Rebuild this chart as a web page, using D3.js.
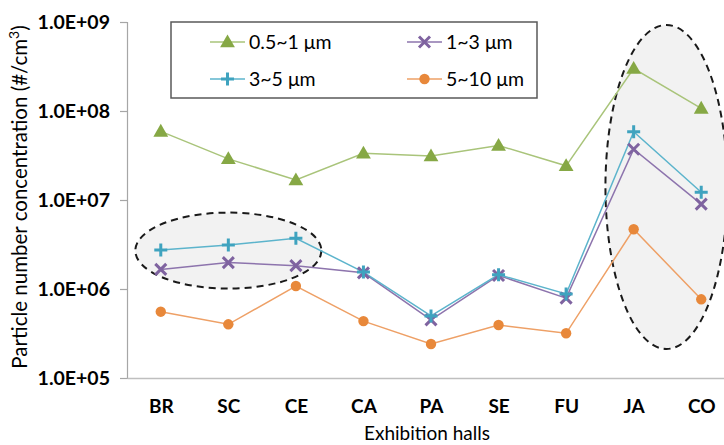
<!DOCTYPE html>
<html>
<head>
<meta charset="utf-8">
<script src="https://cdn.jsdelivr.net/npm/d3@7"></script>
<style>
  body { margin: 0; background: #fff; }
  text { font-family: Lato, "Liberation Sans", sans-serif; fill: #000; }
</style>
</head>
<body>
<script>
//exhibition halls on the x axis
var halls = ["BR", "SC", "CE", "CA", "PA", "SE", "FU", "JA", "CO"];

//particle number concentrations (#/cm3)
var pm05to1 = [5.9e7, 2.9e7, 1.68e7, 3.35e7, 3.12e7, 4.1e7, 2.42e7, 3.0e8, 1.07e8];
var pm1to3 = [1.66e6, 1.98e6, 1.83e6, 1.52e6, 4.5e5, 1.42e6, 7.9e5, 3.72e7, 9.0e6];
var pm3to5 = [2.74e6, 3.12e6, 3.72e6, 1.55e6, 4.98e5, 1.45e6, 8.8e5, 5.85e7, 1.22e7];
var pm5to10 = [5.56e5, 4.01e5, 1.08e6, 4.36e5, 2.41e5, 3.94e5, 3.18e5, 4.69e6, 7.66e5];

var seriesNames = ["0.5~1 μm", "1~3 μm", "3~5 μm", "5~10 μm"];
var yTickValues = [1e5, 1e6, 1e7, 1e8, 1e9];
var yTickLabels = ["1.0E+05", "1.0E+06", "1.0E+07", "1.0E+08", "1.0E+09"];

var width = 724,
    height = 445;

var svg = d3.select("body")
    .append("svg")
    .attr("width", width)
    .attr("height", height);

//scales
var x = d3.scalePoint()
    .domain(halls)
    .range([127, 735])
    .padding(0.5);

var y = d3.scaleLog()
    .domain([1e5, 1e9])
    .range([378, 22]);

var series = [
    { name: seriesNames[0], values: pm05to1, line: "#a9c47a", fill: "#86a845", shape: "triangle" },
    { name: seriesNames[1], values: pm1to3, line: "#8d74ad", fill: "#7f63a0", shape: "x" },
    { name: seriesNames[2], values: pm3to5, line: "#5cb4cc", fill: "#3fa3bf", shape: "plus" },
    { name: seriesNames[3], values: pm5to10, line: "#eea066", fill: "#e8883a", shape: "circle" }
];

//highlight ellipses, behind the lines
svg.append("ellipse")
    .attr("cx", (x("BR") + x("CE")) / 2)
    .attr("cy", y(2.7e6))
    .attr("rx", 93)
    .attr("ry", 38)
    .attr("fill", "#f2f2f2")
    .attr("stroke", "#1a1a1a")
    .attr("stroke-width", 2)
    .attr("stroke-dasharray", "7,5");

svg.append("ellipse")
    .attr("cx", (x("JA") + x("CO")) / 2 - 1)
    .attr("cy", 187)
    .attr("rx", 61)
    .attr("ry", 162)
    .attr("fill", "#f2f2f2")
    .attr("stroke", "#1a1a1a")
    .attr("stroke-width", 2)
    .attr("stroke-dasharray", "7,5");

//axes
var yAxis = svg.append("g")
    .attr("transform", "translate(127,0)")
    .call(d3.axisLeft(y)
        .tickValues(yTickValues)
        .tickSize(7)
        .tickFormat(function(d, i) { return yTickLabels[i]; }));

yAxis.select(".domain").attr("stroke", "#a6a6a6").attr("stroke-width", 1.2);
yAxis.selectAll(".tick line").attr("stroke", "#a6a6a6").attr("stroke-width", 1.2);
yAxis.selectAll(".tick text")
    .attr("x", -17)
    .style("font-size", "19.5px")
    .style("font-weight", "bold")
    .style("font-family", "Lato, sans-serif");

var xAxis = svg.append("g")
    .attr("transform", "translate(0,378)")
    .call(d3.axisBottom(x).tickSize(0).tickPadding(22));

xAxis.select(".domain").attr("stroke", "#bfbfbf").attr("stroke-width", 1.5);
xAxis.selectAll(".tick text")
    .style("font-size", "19px")
    .style("font-weight", "bold")
    .style("font-family", "Lato, sans-serif");

//axis titles
svg.append("text")
    .attr("x", 427)
    .attr("y", 440)
    .attr("text-anchor", "middle")
    .style("font-size", "19px")
    .text("Exhibition halls");

var yTitle = svg.append("text")
    .attr("transform", "translate(27,197) rotate(-90)")
    .attr("text-anchor", "middle")
    .style("font-size", "20.5px");
yTitle.append("tspan").text("Particle number concentration (#/cm");
yTitle.append("tspan").attr("dy", -8).style("font-size", "14px").text("3");
yTitle.append("tspan").attr("dy", 8).text(")");

//marker drawing
function drawMarker(g, s, cx, cy) {
    if (s.shape == "triangle") {
        g.append("path")
            .attr("d", d3.symbol().type(d3.symbolTriangle).size(95)())
            .attr("transform", "translate(" + cx + "," + (cy + 1) + ")")
            .attr("fill", s.fill);
    } else if (s.shape == "circle") {
        g.append("circle")
            .attr("cx", cx).attr("cy", cy).attr("r", 5.2)
            .attr("fill", s.fill);
    } else if (s.shape == "x") {
        var r = 5.5;
        g.append("path")
            .attr("d", "M" + (cx - r) + "," + (cy - r) + "L" + (cx + r) + "," + (cy + r) +
                       "M" + (cx - r) + "," + (cy + r) + "L" + (cx + r) + "," + (cy - r))
            .attr("stroke", s.fill).attr("stroke-width", 3).attr("fill", "none");
    } else {
        var p = 6.5;
        g.append("path")
            .attr("d", "M" + (cx - p) + "," + cy + "L" + (cx + p) + "," + cy +
                       "M" + cx + "," + (cy - p) + "L" + cx + "," + (cy + p))
            .attr("stroke", s.fill).attr("stroke-width", 3).attr("fill", "none");
    }
}

var line = d3.line()
    .x(function(d, i) { return x(halls[i]); })
    .y(function(d) { return y(d); });

//lines first, then markers on top
series.forEach(function(s) {
    svg.append("path")
        .datum(s.values)
        .attr("d", line)
        .attr("fill", "none")
        .attr("stroke", s.line)
        .attr("stroke-width", 1.5);
});

series.forEach(function(s) {
    var g = svg.append("g").attr("class", "markers");
    s.values.forEach(function(v, i) {
        drawMarker(g, s, x(halls[i]), y(v));
    });
});

//legend
var legend = svg.append("g");
legend.append("rect")
    .attr("x", 171)
    .attr("y", 22)
    .attr("width", 366)
    .attr("height", 76)
    .attr("fill", "#fff")
    .attr("stroke", "#595959")
    .attr("stroke-width", 1.5);

var legendCols = [210, 407],
    legendRows = [42, 79];

series.forEach(function(s, i) {
    var lx = legendCols[i % 2],
        ly = legendRows[Math.floor(i / 2)];
    var g = legend.append("g");
    g.append("line")
        .attr("x1", lx).attr("x2", lx + 35)
        .attr("y1", ly).attr("y2", ly)
        .attr("stroke", s.line)
        .attr("stroke-width", 1.6);
    drawMarker(g, s, lx + 17.5, ly);
    g.append("text")
        .attr("x", lx + 39)
        .attr("y", ly + 7)
        .style("font-size", "19.5px")
        .text(s.name);
});
</script>
</body>
</html>
